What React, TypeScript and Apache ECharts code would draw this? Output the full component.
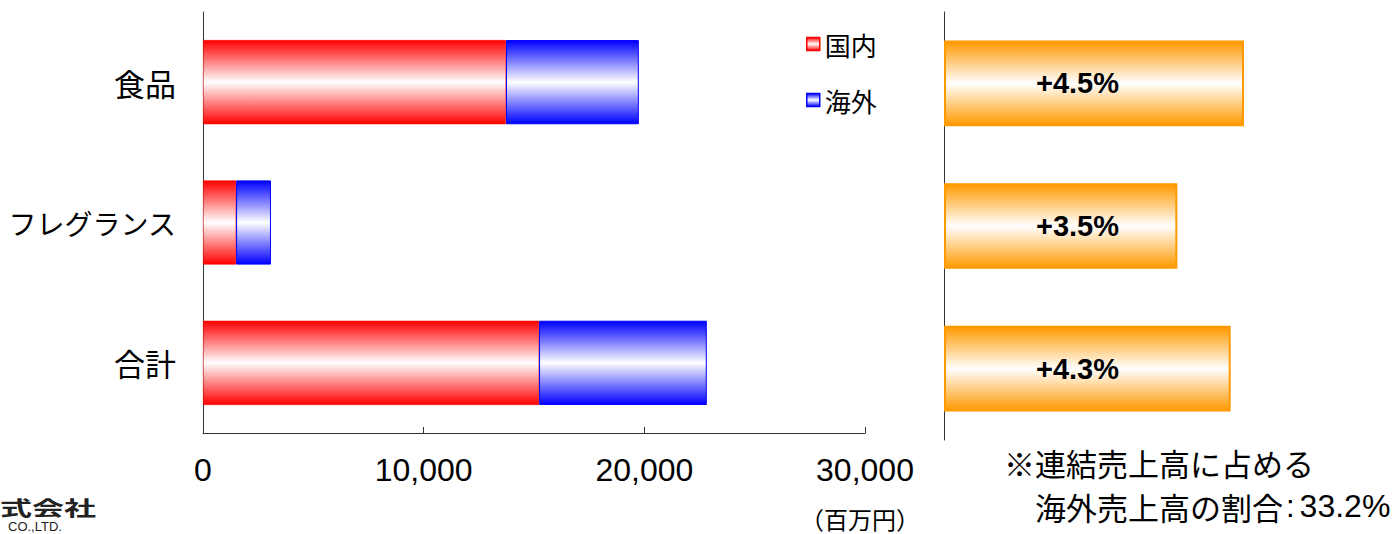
import React, { useEffect, useRef } from "react";
import * as echarts from "echarts";

const categories = ["食品", "フレグランス", "合計"];
const domestic = [13730, 1500, 15230];
const overseas = [6020, 1580, 7600];
const growth = [4.5, 3.5, 4.3];
const xTicks = { min: 0, max: 30000, interval: 10000 };

const NUM_FONT = "'Liberation Sans', Arial, 'Noto Sans CJK JP', sans-serif";
const JP_FONT = "'Noto Sans CJK JP', sans-serif";

const vGrad = (c: string) =>
  new echarts.graphic.LinearGradient(0, 0, 0, 1, [
    { offset: 0, color: c },
    { offset: 0.5, color: "#ffffff" },
    { offset: 1, color: c },
  ]);

export default function App() {
  const ref = useRef<HTMLDivElement>(null);
  useEffect(() => {
    document.body.style.margin = "0";
    const chart = echarts.init(ref.current!, null, { renderer: "svg" });
    const option: any = {
      animation: false,
      backgroundColor: "#ffffff",
      grid: [
        { left: 203, top: 12, width: 662, height: 421 },
        { left: 944, top: 12, width: 400, height: 428 },
      ],
      legend: {
        orient: "vertical",
        left: 801,
        top: 26,
        itemWidth: 13,
        itemHeight: 13,
        itemGap: 30,
        itemTextGap: 8,
        icon: "rect",
        textStyle: { fontFamily: JP_FONT, fontSize: 26, color: "#000" },
        data: [
          { name: "国内", itemStyle: { borderColor: "#ff0000", borderWidth: 1.5 } },
          { name: "海外", itemStyle: { borderColor: "#0000ff", borderWidth: 1.5 } },
        ],
      },
      xAxis: [
        {
          gridIndex: 0,
          type: "value",
          min: xTicks.min,
          max: xTicks.max,
          interval: xTicks.interval,
          axisLine: { show: true, lineStyle: { color: "#333", width: 1 } },
          axisTick: { show: true, inside: true, length: 6, lineStyle: { color: "#333" } },
          splitLine: { show: false },
          axisLabel: {
            margin: 21,
            fontFamily: NUM_FONT,
            fontSize: 32,
            color: "#000",
            formatter: (v: number) => v.toLocaleString("en-US"),
          },
        },
        { gridIndex: 1, type: "value", min: 0, max: 6, show: false },
      ],
      yAxis: [
        {
          gridIndex: 0,
          type: "category",
          data: categories,
          inverse: true,
          axisLine: { show: true, lineStyle: { color: "#333", width: 1 } },
          axisTick: { show: false },
          axisLabel: {
            margin: 27,
            fontFamily: JP_FONT,
            fontSize: 31,
            color: "#000",
            formatter: (v: string) => (v.length > 4 ? `{k|${v}}` : v),
            rich: { k: { fontFamily: JP_FONT, fontSize: 28, color: "#000" } },
          },
        },
        {
          gridIndex: 1,
          type: "category",
          data: categories,
          inverse: true,
          axisLine: { show: true, lineStyle: { color: "#333", width: 1 } },
          axisTick: { show: false },
          axisLabel: { show: false },
        },
      ],
      series: [
        {
          name: "国内",
          type: "bar",
          stack: "total",
          xAxisIndex: 0,
          yAxisIndex: 0,
          barCategoryGap: "40%",
          data: domestic,
          itemStyle: { color: vGrad("#ff0000"), borderColor: "#ff0000", borderWidth: 0.5 },
        },
        {
          name: "海外",
          type: "bar",
          stack: "total",
          xAxisIndex: 0,
          yAxisIndex: 0,
          barCategoryGap: "40%",
          data: overseas,
          itemStyle: { color: vGrad("#0000ff"), borderColor: "#0000ff", borderWidth: 1 },
        },
        {
          name: "伸長率",
          type: "bar",
          xAxisIndex: 1,
          yAxisIndex: 1,
          barCategoryGap: "40%",
          data: growth,
          itemStyle: { color: vGrad("#ff9900"), borderColor: "#ff9900", borderWidth: 2 },
          label: {
            show: true,
            position: [92, "50%"],
            align: "left",
            verticalAlign: "middle",
            fontFamily: "'Liberation Sans', Arial, sans-serif",
            fontWeight: "bold",
            fontSize: 29,
            color: "#000",
            formatter: (p: any) => `+${p.value.toFixed(1)}%`,
          },
        },
      ],
      graphic: [
        {
          type: "text",
          left: 1004,
          top: 447,
          style: { text: "※連結売上高に占める", fontFamily: JP_FONT, fontSize: 31, lineHeight: 31, fill: "#000" },
        },
        {
          type: "text",
          left: 1035,
          top: 490,
          style: {
            text: "{a|海外売上高の割合}{b|:}{c|33.2%}",
            fill: "#000",
            rich: {
              a: { fontFamily: JP_FONT, fontSize: 31, lineHeight: 31, fill: "#000" },
              b: { fontFamily: NUM_FONT, fontSize: 31, lineHeight: 31, fill: "#000", padding: [0, 5, 0, 3] },
              c: { fontFamily: NUM_FONT, fontSize: 32, lineHeight: 31, fill: "#000" },
            },
          },
        },
        {
          type: "text",
          x: 860,
          y: 518,
          style: { text: "（百万円）", fontFamily: JP_FONT, fontSize: 24, lineHeight: 26, fill: "#000", align: "center", verticalAlign: "middle" },
        },
        {
          type: "text",
          x: 0,
          y: 497,
          scaleX: 1.6,
          style: { text: "式会社", fontFamily: JP_FONT, fontWeight: "bold", fontSize: 20, fill: "#222" },
        },
        {
          type: "text",
          x: 8,
          y: 520,
          style: { text: "CO.,LTD.", fontFamily: "'Liberation Sans', sans-serif", fontSize: 13, lineHeight: 13, fill: "#222" },
        },
      ],
    };
    chart.setOption(option);
    return () => chart.dispose();
  }, []);
  return <div ref={ref} style={{ position: "fixed", left: 0, top: 0, width: 1394, height: 534 }} />;
}
